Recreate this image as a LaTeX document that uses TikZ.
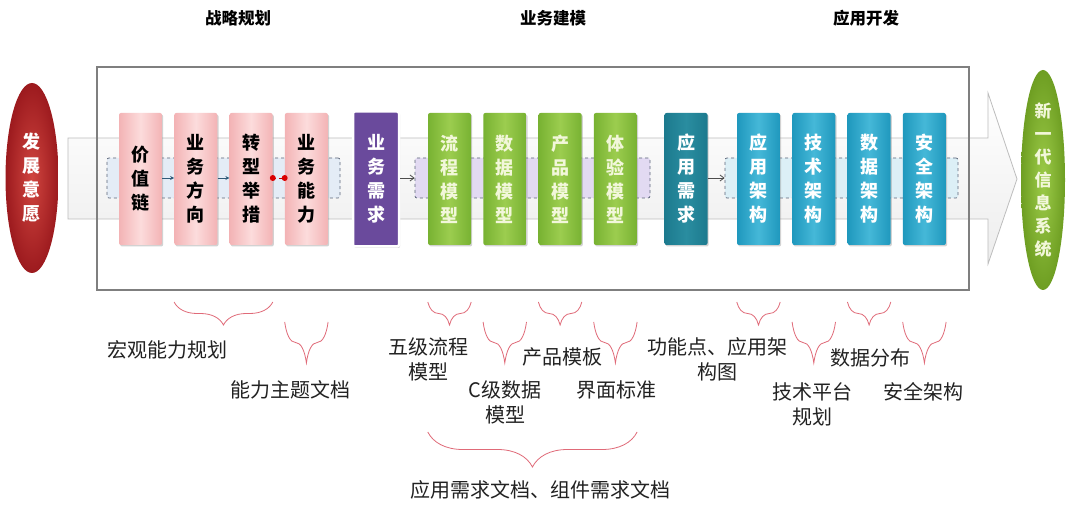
\documentclass[tikz,border=0pt]{standalone}
\usepackage{fontspec}
\setmainfont{Noto Sans CJK SC}
\usetikzlibrary{shapes.geometric,decorations.pathreplacing,arrows.meta,shadows,calc}
\definecolor{bandfill}{HTML}{EDEDED}
\definecolor{bandline}{HTML}{BDBDBD}
\definecolor{framecol}{HTML}{7F7F7F}
\definecolor{pinkA}{HTML}{F3B3B5}
\definecolor{pinkB}{HTML}{FCDCDC}
\definecolor{purp}{HTML}{6A4A9C}
\definecolor{purpB}{HTML}{7E62AE}
\definecolor{grnA}{HTML}{78B232}
\definecolor{grnB}{HTML}{9CCD4F}
\definecolor{teal}{HTML}{1C7A8E}
\definecolor{tealB}{HTML}{2A8DA0}
\definecolor{bluA}{HTML}{1F98BD}
\definecolor{bluB}{HTML}{45B8D8}
\definecolor{redA}{HTML}{9C1A1E}
\definecolor{redB}{HTML}{D0453F}
\definecolor{elgA}{HTML}{6E9E22}
\definecolor{elgB}{HTML}{9CCB48}
\definecolor{gtxt}{HTML}{F2F7DA}
\definecolor{bracecol}{HTML}{E06A78}
\definecolor{dashcol}{HTML}{5A6478}
\definecolor{gA}{HTML}{E4ECF6}
\definecolor{gB}{HTML}{E2DAF2}
\definecolor{gC}{HTML}{DCEFF6}
\definecolor{arrcol}{HTML}{2F5A78}
\definecolor{labcol}{HTML}{222222}
\begin{document}
\begin{tikzpicture}[x=1pt,y=-1pt,
  col/.style={rectangle, rounded corners=2pt, minimum width=43pt, minimum height=132pt,
    inner sep=0pt, align=center, font=\bfseries\fontsize{18}{24}\selectfont,
    drop shadow={opacity=0.35, shadow xshift=1.2pt, shadow yshift=-1.5pt}},
  pinkbox/.style={col, left color=pinkA, right color=pinkA, middle color=pinkB, text=black},
  greenbox/.style={col, left color=grnA, right color=grnA, middle color=grnB, text=gtxt},
  bluebox/.style={col, left color=bluA, right color=bluA, middle color=bluB, text=white},
  grp/.style={rectangle, rounded corners=2pt, draw=dashcol, dashed, line width=0.7pt,
    minimum height=40pt, inner sep=0pt},
  head/.style={font=\bfseries\fontsize{16.5}{20}\selectfont, text=black},
  lab/.style={font=\fontsize{20}{25}\selectfont, text=labcol, align=center, inner sep=0pt},
  brc/.style={draw=bracecol, line width=0.8pt, decorate,
    decoration={brace, mirror, amplitude=#1}},
  brc/.default=23pt,
  sarr/.style={-{Stealth[length=4pt,width=4pt]}, arrcol, line width=0.8pt},
  garr/.style={-{Straight Barb[length=4pt,width=6pt]}, black!70, line width=0.8pt}
]
\useasboundingbox (0,0) rectangle (1080,513);
\fill[white] (0,0) rectangle (1080,513);

% headers
\node[head] (h1) at (238,18) {战略规划};
\node[head] (h2) at (553,18) {业务建模};
\node[head] (h3) at (866,18) {应用开发};

% band arrow
\shade[top color=white, bottom color=bandfill, draw=bandline, line width=0.8pt]
  (68,138) -- (988,138) -- (988,93) -- (1017,179) -- (988,264) -- (988,219) -- (68,219) -- cycle;

% frame
\draw[framecol, line width=2pt] (97,67) rectangle (969,290);

% ellipses
\node[ellipse, minimum width=53pt, minimum height=190pt, inner sep=0pt,
  inner color=redB, outer color=redA, text=white, align=center,
  font=\bfseries\fontsize{18}{24}\selectfont] (src) at (32,178) {发\\展\\意\\愿};
\node[ellipse, minimum width=44pt, minimum height=220pt, inner sep=0pt,
  inner color=elgB, outer color=elgA, text=gtxt, align=center,
  font=\bfseries\fontsize{17}{23}\selectfont] (dst) at (1043,180) {新\\一\\代\\信\\息\\系\\统};

% dashed groups
\node[grp, fill=gA, minimum width=233pt] (g1) at (223.5,178) {};
\node[grp, fill=gB, minimum width=235pt] (g2) at (532.5,178) {};
\node[grp, fill=gC, minimum width=233pt] (g3) at (841.5,178) {};

% strategy columns
\node[pinkbox] (p1) at (140.5,179) {价\\值\\链};
\node[pinkbox] (p2) at (195.8,179) {业\\务\\方\\向};
\node[pinkbox] (p3) at (251.1,179) {转\\型\\举\\措};
\node[pinkbox] (p4) at (306.4,179) {业\\务\\能\\力};

\node[col, fill=purp, draw=white, line width=2.5pt, minimum width=46pt, minimum height=135pt,
  text=white] (req) at (376,179) {业\\务\\需\\求};

\node[greenbox] (m1) at (449.5,179) {流\\程\\模\\型};
\node[greenbox] (m2) at (504.8,179) {数\\据\\模\\型};
\node[greenbox] (m3) at (560.1,179) {产\\品\\模\\型};
\node[greenbox] (m4) at (615.4,179) {体\\验\\模\\型};

\node[col, left color=teal, right color=teal, middle color=tealB, text=white] (areq) at (686,179) {应\\用\\需\\求};

\node[bluebox] (a1) at (758.5,179) {应\\用\\架\\构};
\node[bluebox] (a2) at (813.8,179) {技\\术\\架\\构};
\node[bluebox] (a3) at (869.1,179) {数\\据\\架\\构};
\node[bluebox] (a4) at (924.4,179) {安\\全\\架\\构};

% connectors
\draw[sarr] ($(p1.east)+(0,-1)$) -- ($(p2.west)+(0,-1)$);
\draw[sarr] ($(p2.east)+(0,-1)$) -- ($(p3.west)+(0,-1)$);
\draw[red!80!black, dashed, line width=0.8pt] ($(p3.east)+(0,-1)$) -- ($(p4.west)+(0,-1)$);
\fill[red!85!black] ($(p3.east)+(0,-1)$) circle (3pt);
\fill[red!85!black] ($(p4.west)+(0,-1)$) circle (3pt);
\draw[garr] (req.east |- g2.west) -- (g2.west);
\draw[garr] (areq.east |- g3.west) -- (g3.west);

% braces
\draw[brc] (p2.west |- 0,302) -- (p3.east |- 0,302);
\draw[brc=41pt] (p4.west |- 0,322) -- (p4.east |- 0,322);
\draw[brc] (m1.west |- 0,302) -- (m1.east |- 0,302);
\draw[brc=41pt] (m2.west |- 0,322) -- (m2.east |- 0,322);
\draw[brc] (m3.west |- 0,302) -- (m3.east |- 0,302);
\draw[brc=41pt] (m4.west |- 0,322) -- (m4.east |- 0,322);
\draw[brc] (a1.west |- 0,302) -- (a1.east |- 0,302);
\draw[brc=41pt] (a2.west |- 0,322) -- (a2.east |- 0,322);
\draw[brc] (a3.west |- 0,302) -- (a3.east |- 0,302);
\draw[brc=41pt] (a4.west |- 0,322) -- (a4.east |- 0,322);
\draw[brc=35pt] (m1.west |- 0,432) -- (m4.east |- 0,432);

% labels
\node[lab] (l1) at (167,350) {宏观能力规划};
\node[lab] (l2) at (290,390) {能力主题文档};
\node[lab] (l3) at (428,359.5) {五级流程\\模型};
\node[lab] (l4) at (505,402.5) {C级数据\\模型};
\node[lab] (l5) at (562,357) {产品模板};
\node[lab] (l6) at (616,390) {界面标准};
\node[lab] (l7) at (717,359.5) {功能点、应用架\\构图};
\node[lab] (l8) at (812,404.5) {技术平台\\规划};
\node[lab] (l9) at (870,358) {数据分布};
\node[lab] (l10) at (923,392) {安全架构};
\node[lab] (l11) at (540,490) {应用需求文档、组件需求文档};
\end{tikzpicture}
\end{document}
